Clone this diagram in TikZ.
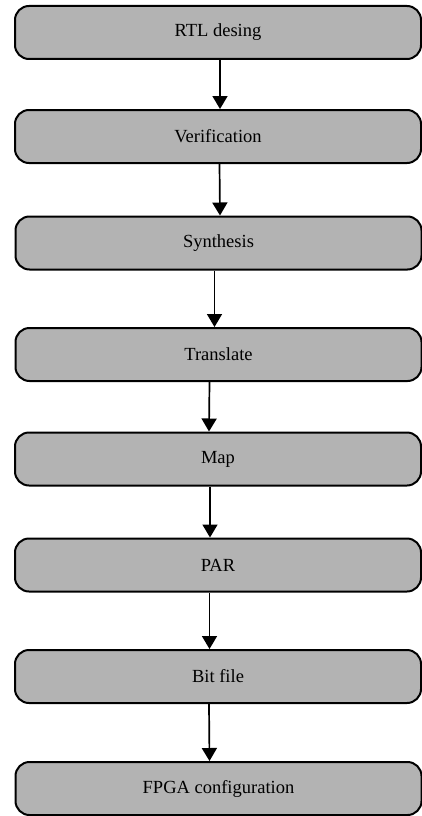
\documentclass[tikz,border=0pt]{standalone}
\usepackage{fontspec}
\setmainfont{Liberation Serif}
\usetikzlibrary{arrows.meta}
\begin{document}
\begin{tikzpicture}[x=1pt,y=-1pt,
  stage/.style={draw=black, line width=2pt, fill=boxgray, rounded corners=14pt,
    minimum width=406pt, minimum height=53pt, inner sep=0pt, font=\fontsize{18.5}{22}\selectfont},
  flow/.style={line width=1.7pt, -{Triangle[length=13pt,width=15pt]}}]
\definecolor{boxgray}{HTML}{B3B3B3}
\useasboundingbox (0,0) rectangle (422,816);
\node[stage] (n1) at (218,32.5) {RTL desing};
\node[stage] (n2) at (218,136.5) {Verification};
\node[stage] (n3) at (218.5,243) {Synthesis};
\node[stage] (n4) at (218.5,354.5) {Translate};
\node[stage] (n5) at (218,459) {Map};
\node[stage] (n6) at (218,565) {PAR};
\node[stage] (n7) at (218,676.5) {Bit file};
\node[stage] (n8) at (218.5,788.5) {FPGA configuration};
\draw[flow] ([xshift=2pt]n1.south) -- ([xshift=2pt]n2.north);
\draw[flow] ([xshift=1.5pt]n2.south) -- ([xshift=1.5pt]n3.north);
\draw[flow] ([xshift=-4pt]n3.south) -- ([xshift=-4pt]n4.north);
\draw[flow] ([xshift=-9pt]n4.south) -- ([xshift=-9pt]n5.north);
\draw[flow] ([xshift=-8pt]n5.south) -- ([xshift=-8pt]n6.north);
\draw[flow] ([xshift=-8.5pt]n6.south) -- ([xshift=-8.5pt]n7.north);
\draw[flow] ([xshift=-9pt]n7.south) -- ([xshift=-9pt]n8.north);
\end{tikzpicture}
\end{document}
